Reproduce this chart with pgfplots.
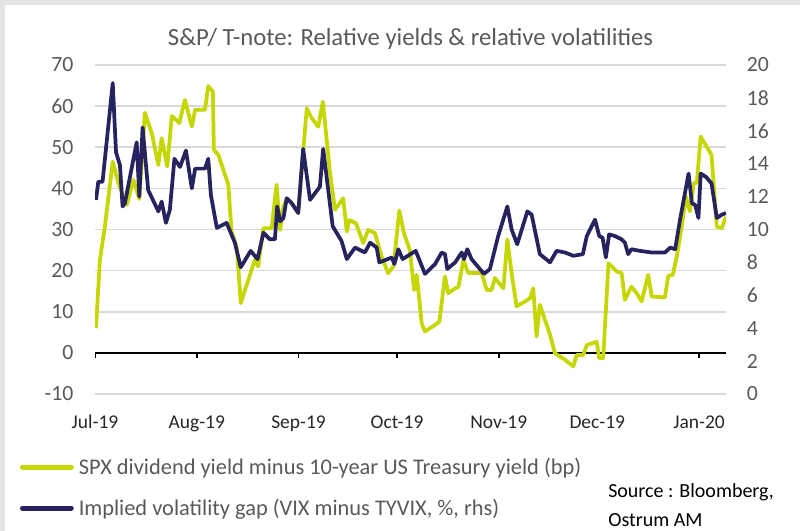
\documentclass[border=0pt]{standalone}
\usepackage{fontspec}
\setmainfont{Carlito}
\usepackage{pgfplots}
\pgfplotsset{compat=1.18}
\definecolor{cgreen}{HTML}{C5D600}
\definecolor{cnavy}{HTML}{27235F}
\definecolor{cgrid}{HTML}{D9D9D9}
\definecolor{ctext}{HTML}{595959}
\definecolor{cframe}{HTML}{E4E4E4}
\begin{document}
\begin{tikzpicture}
\path[use as bounding box] (0,0) rectangle (600pt,398.25pt);
\fill[cframe] (0,0) rectangle (3.75pt,398.25pt);
\fill[cframe] (0,394.5pt) rectangle (600pt,398.25pt);
\node[anchor=base, font=\fontsize{18.5}{22}\selectfont, text=ctext, inner sep=0pt] at (307.9pt,363.75pt) {S\&P/ T-note: Relative yields \& relative volatilities};
\node[anchor=base west, font=\fontsize{15}{18}\selectfont, inner sep=0pt] at (456pt,24.75pt) {Source : Bloomberg,};
\node[anchor=base west, font=\fontsize{15}{18}\selectfont, inner sep=0pt] at (456pt,3.2pt) {Ostrum AM};

\begin{axis}[
  at={(71.25pt,102.75pt)}, anchor=south west,
  scale only axis, width=473.25pt, height=246.75pt,
  xmin=0, xmax=192.2, ymin=-10, ymax=70,
  axis x line*=bottom, axis y line*=left,
  x axis line style={draw=none}, y axis line style={draw=none},
  xtick={0,31,62,92,123,153,184},
  xticklabels={Jul-19,Aug-19,Sep-19,Oct-19,Nov-19,Dec-19,Jan-20},
  ytick={-10,0,...,70},
  ymajorgrids, major grid style={draw=cgrid, line width=1.3pt},
  major tick length=0pt, tick style={draw=none},
  xticklabel style={font=\fontsize{14.6}{16}\selectfont, text=black!85, anchor=base, inner sep=0pt, yshift=-26.25pt},
  yticklabel style={font=\fontsize{16.3}{18}\selectfont, text=ctext, anchor=east, inner sep=0pt, xshift=-16pt},
  /pgf/number format/assume math mode=true,
  legend cell align=left,
  legend style={draw=none, fill=none, inner sep=0pt, outer sep=0pt,
    at={(axis description cs:-0.1189,-0.1967)}, anchor=north west,
    font=\fontsize{16.8}{19}\selectfont, text=ctext,
    row sep=15.75pt, column sep=3.75pt,
    nodes={inner sep=0pt, text height=11.5pt, text depth=3.5pt, anchor=base west}},
  legend image code/.code={\draw[line cap=round, line width=3.6pt] (0pt,5.2pt) -- (36.75pt,5.2pt);},
]
\draw[black, line width=1.4pt] (axis cs:0,0) -- (axis cs:192.2,0);
\pgfplotsinvokeforeach{0,31,62,92,123,153,184}{\draw[black, line width=1.1pt] (axis cs:#1,0) -- ([yshift=-4pt]axis cs:#1,0);}
\addplot[cgreen, line width=2.8pt, line join=round] coordinates {
(0.3,6.0) (1.5,22.6) (3.0,30.7) (5.4,46.5) (7.1,41.3) (9.7,36.0) (11.7,42.1) (13.5,37.4) (15.2,58.4) (17.3,53.4) (19.3,45.7) (20.3,52.2) (22.0,45.3) (23.4,57.6) (25.7,55.9) (27.4,61.5) (29.5,55.0) (30.5,59.1) (33.5,59.1) (34.5,64.9) (35.9,63.5) (36.2,49.4) (37.6,48.1) (40.6,40.9) (41.6,29.5) (43.2,25.5) (44.4,12.1) (47.7,20.2) (48.7,22.6) (49.7,21.0) (51.3,30.3) (53.8,30.3) (55.3,40.9) (56.4,29.9) (57.4,35.6) (58.4,37.5) (59.9,36.5) (61.9,34.0) (64.5,59.5) (66.0,57.1) (68.0,55.0) (69.4,61.1) (71.6,43.7) (73.1,34.8) (75.6,37.6) (76.7,29.5) (77.5,32.3) (79.5,31.5) (81.7,26.7) (83.2,29.9) (85.3,29.1) (87.3,23.4) (89.3,19.4) (90.9,21.0) (92.7,34.6) (94.1,29.1) (95.9,25.0) (97.2,15.3) (98.0,19.0) (99.5,7.2) (100.5,5.2) (103.6,6.8) (104.9,7.6) (106.6,18.6) (107.6,14.5) (109.7,15.7) (110.7,16.0) (112.2,22.6) (113.7,19.4) (117.8,19.4) (119.3,15.3) (120.8,15.3) (121.8,18.2) (124.4,15.7) (125.6,27.6) (126.9,19.4) (128.4,11.3) (131.0,12.5) (132.5,13.3) (133.5,15.7) (134.5,4.0) (135.5,11.7) (138.6,4.4) (140.1,-0.1) (143.2,-1.7) (145.7,-3.3) (146.7,-0.5) (148.7,-0.5) (149.8,1.9) (152.8,2.7) (153.6,-1.3) (154.8,-1.3) (156.4,21.8) (158.9,19.8) (160.4,19.4) (161.4,12.9) (163.4,16.1) (165.0,14.5) (166.5,12.5) (168.5,19.0) (169.6,13.7) (173.6,13.5) (174.6,18.7) (176.0,19.0) (177.2,23.4) (178.7,30.7) (180.0,38.0) (181.2,34.4) (182.4,41.3) (183.3,41.3) (184.5,52.6) (187.8,48.1) (189.4,30.7) (190.9,30.3) (192.2,33.1)
};
\addlegendentry{SPX dividend yield minus 10-year US Treasury yield (bp)}
\addlegendimage{cnavy, line width=2.8pt}
\addlegendentry{Implied volatility gap (VIX minus TYVIX, \%, rhs)}
\end{axis}

\begin{axis}[
  at={(71.25pt,102.75pt)}, anchor=south west,
  scale only axis, width=473.25pt, height=246.75pt,
  xmin=0, xmax=192.2, ymin=0, ymax=20,
  axis y line*=right, axis x line=none,
  y axis line style={draw=none},
  major tick length=0pt, tick style={draw=none},
  ytick={0,2,...,20},
  yticklabel style={font=\fontsize{16.3}{18}\selectfont, text=ctext, anchor=west, inner sep=0pt, xshift=15.5pt},
  /pgf/number format/assume math mode=true,
]
\addplot[cnavy, line width=2.8pt, line join=round] coordinates {
(0.3,11.8) (1.0,12.9) (2.3,12.9) (5.4,18.9) (6.4,14.7) (7.6,13.9) (8.4,11.4) (9.1,11.6) (12.7,15.3) (13.5,12.0) (14.5,16.2) (16.2,12.4) (19.3,11.1) (20.3,11.7) (21.6,10.4) (22.8,11.2) (24.2,14.3) (25.9,13.8) (27.7,14.8) (29.5,12.5) (30.5,13.7) (33.5,13.7) (34.5,14.3) (35.3,12.1) (37.1,10.1) (40.1,10.4) (42.6,9.2) (44.4,7.7) (47.4,8.7) (49.5,8.2) (51.3,9.8) (53.3,9.4) (54.8,9.4) (55.5,11.4) (56.4,10.5) (57.4,10.7) (58.4,11.9) (59.9,11.6) (61.9,11.0) (63.4,14.9) (65.5,11.8) (68.5,12.6) (69.5,14.9) (72.4,10.2) (75.1,9.3) (76.7,8.2) (79.2,8.9) (82.2,8.6) (83.8,9.2) (85.8,8.9) (86.6,8.0) (90.4,8.3) (91.2,7.9) (92.4,8.8) (93.7,8.2) (97.7,8.7) (100.5,7.3) (103.6,7.9) (105.6,8.6) (106.6,8.5) (107.3,7.6) (109.7,8.0) (111.7,8.6) (112.4,8.2) (113.4,8.8) (114.7,8.2) (116.8,7.7) (118.5,7.3) (120.3,7.6) (122.8,9.6) (125.6,11.4) (126.9,10.0) (128.6,9.1) (131.7,11.1) (133.0,10.9) (135.5,8.5) (138.6,8.0) (140.6,8.7) (143.2,8.6) (145.7,8.4) (148.6,8.5) (149.8,9.6) (152.3,10.6) (153.6,9.6) (154.6,9.5) (155.6,8.3) (156.6,9.7) (158.4,9.6) (160.4,9.4) (161.4,9.2) (162.4,8.5) (163.4,8.8) (166.0,8.7) (169.6,8.6) (173.6,8.6) (175.2,8.9) (176.7,8.8) (178.2,10.6) (180.8,13.4) (181.8,11.6) (182.8,11.5) (183.8,10.7) (184.5,13.4) (186.1,13.2) (187.8,12.8) (189.4,10.7) (190.9,10.9) (192.2,11.0)
};
\end{axis}
\end{tikzpicture}
\end{document}
